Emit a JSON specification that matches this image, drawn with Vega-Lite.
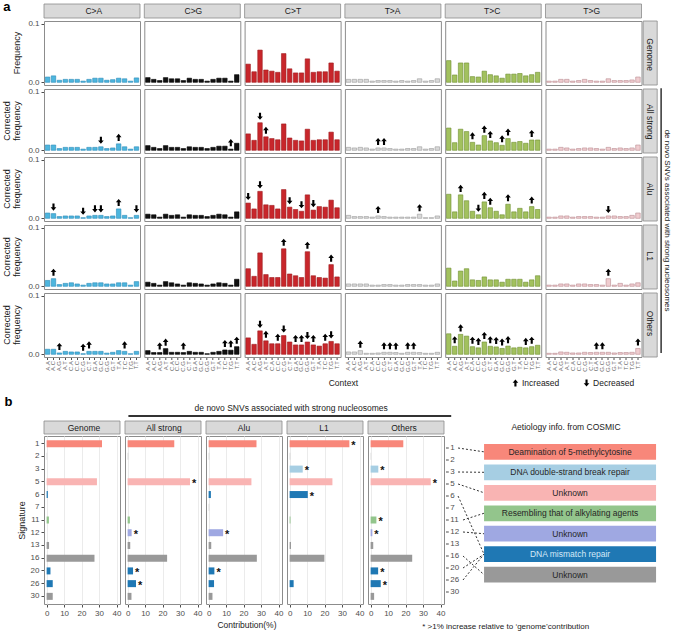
{
"$schema": "https://vega.github.io/schema/vega-lite/v6.json",
"background": "white",
"padding": {"left": 2, "top": 0, "right": 0, "bottom": 0},
"spacing": 0,
"resolve": {"scale": {"fill": "independent", "color": "independent", "stroke": "independent", "shape": "independent"}},
"config": {
  "font": "Liberation Sans",
  "view": {"stroke": "#8c8c8c", "strokeWidth": 1},
  "axis": {"labelFont": "Liberation Sans", "titleFont": "Liberation Sans", "labelColor": "#4d4d4d", "tickColor": "#4d4d4d", "domain": false, "labelFontSize": 8, "titleFontSize": 9, "titleFontWeight": "normal", "titleColor": "#1a1a1a", "tickSize": 3, "labelPadding": 2, "labelOverlap": false},
  "axisX": {"labelOverlap": false},
  "axisQuantitative": {"labelOverlap": false},
  "header": {"labelFont": "Liberation Sans", "titleFont": "Liberation Sans"}
},
"datasets": {
  "muts": [{"mut": "C>A"}, {"mut": "C>G"}, {"mut": "C>T"}, {"mut": "T>A"}, {"mut": "T>C"}, {"mut": "T>G"}],
  "sets": [{"set": "Genome"}, {"set": "All strong"}, {"set": "Alu"}, {"set": "L1"}, {"set": "Others"}],
  "groups": [{"group": "Genome"}, {"group": "All strong"}, {"group": "Alu"}, {"group": "L1"}, {"group": "Others"}],
  "sigs": [{"sig": "1"}, {"sig": "2"}, {"sig": "3"}, {"sig": "5"}, {"sig": "6"}, {"sig": "7"}, {"sig": "11"}, {"sig": "12"}, {"sig": "13"}, {"sig": "16"}, {"sig": "20"}, {"sig": "26"}, {"sig": "30"}],
  "links": [{"sig": "1", "slot": 1}, {"sig": "3", "slot": 2}, {"sig": "5", "slot": 3}, {"sig": "11", "slot": 4}, {"sig": "12", "slot": 5}, {"sig": "6", "slot": 6}, {"sig": "20", "slot": 6}, {"sig": "26", "slot": 6}, {"sig": "16", "slot": 7}],
  "aetiology": [{"slot": 1, "label": "Deamination of 5-methylcytosine"}, {"slot": 2, "label": "DNA double-strand break repair"}, {"slot": 3, "label": "Unknown"}, {"slot": 4, "label": "Resembling that of alkylating agents"}, {"slot": 5, "label": "Unknown"}, {"slot": 6, "label": "DNA mismatch repair"}, {"slot": 7, "label": "Unknown"}],
  "contrib": [
    {"group": "Genome", "sig": "1", "value": 31.7}, {"group": "Genome", "sig": "2", "value": 0.3}, {"group": "Genome", "sig": "3", "value": 0}, {"group": "Genome", "sig": "5", "value": 28.8}, {"group": "Genome", "sig": "6", "value": 0.7}, {"group": "Genome", "sig": "7", "value": 0}, {"group": "Genome", "sig": "11", "value": 1.3}, {"group": "Genome", "sig": "12", "value": 0}, {"group": "Genome", "sig": "13", "value": 1.4}, {"group": "Genome", "sig": "16", "value": 27.4}, {"group": "Genome", "sig": "20", "value": 2.2}, {"group": "Genome", "sig": "26", "value": 3.5}, {"group": "Genome", "sig": "30", "value": 3.5},
    {"group": "All strong", "sig": "1", "value": 26.7}, {"group": "All strong", "sig": "2", "value": 0.4}, {"group": "All strong", "sig": "3", "value": 0}, {"group": "All strong", "sig": "5", "value": 35.7, "star": true}, {"group": "All strong", "sig": "6", "value": 0}, {"group": "All strong", "sig": "7", "value": 0}, {"group": "All strong", "sig": "11", "value": 1.3}, {"group": "All strong", "sig": "12", "value": 2.3, "star": true}, {"group": "All strong", "sig": "13", "value": 1.5}, {"group": "All strong", "sig": "16", "value": 22.6}, {"group": "All strong", "sig": "20", "value": 3.1, "star": true}, {"group": "All strong", "sig": "26", "value": 4.8, "star": true}, {"group": "All strong", "sig": "30", "value": 2.2},
    {"group": "Alu", "sig": "1", "value": 27.4}, {"group": "Alu", "sig": "2", "value": 0.4}, {"group": "Alu", "sig": "3", "value": 0}, {"group": "Alu", "sig": "5", "value": 24.5}, {"group": "Alu", "sig": "6", "value": 1.3}, {"group": "Alu", "sig": "7", "value": 0.4}, {"group": "Alu", "sig": "11", "value": 0}, {"group": "Alu", "sig": "12", "value": 8.3, "star": true}, {"group": "Alu", "sig": "13", "value": 1.5}, {"group": "Alu", "sig": "16", "value": 27.6}, {"group": "Alu", "sig": "20", "value": 3.3, "star": true}, {"group": "Alu", "sig": "26", "value": 3.1}, {"group": "Alu", "sig": "30", "value": 2.2},
    {"group": "L1", "sig": "1", "value": 34.2, "star": true}, {"group": "L1", "sig": "2", "value": 0.4}, {"group": "L1", "sig": "3", "value": 7.5, "star": true}, {"group": "L1", "sig": "5", "value": 24.5}, {"group": "L1", "sig": "6", "value": 10.4, "star": true}, {"group": "L1", "sig": "7", "value": 0}, {"group": "L1", "sig": "11", "value": 0.5}, {"group": "L1", "sig": "12", "value": 0}, {"group": "L1", "sig": "13", "value": 0.8}, {"group": "L1", "sig": "16", "value": 19.9}, {"group": "L1", "sig": "20", "value": 0}, {"group": "L1", "sig": "26", "value": 2.3}, {"group": "L1", "sig": "30", "value": 0},
    {"group": "Others", "sig": "1", "value": 18.7}, {"group": "Others", "sig": "2", "value": 0.3}, {"group": "Others", "sig": "3", "value": 4.4, "star": true}, {"group": "Others", "sig": "5", "value": 34.4, "star": true}, {"group": "Others", "sig": "6", "value": 0}, {"group": "Others", "sig": "7", "value": 0}, {"group": "Others", "sig": "11", "value": 3.3, "star": true}, {"group": "Others", "sig": "12", "value": 1.0, "star": true}, {"group": "Others", "sig": "13", "value": 1.5}, {"group": "Others", "sig": "16", "value": 23.8}, {"group": "Others", "sig": "20", "value": 4.3, "star": true}, {"group": "Others", "sig": "26", "value": 5.8, "star": true}, {"group": "Others", "sig": "30", "value": 2.0}
  ],
  "freq": [
{"set":"Genome","mut":"C>A","ctx":"A.A","freq":0.009},{"set":"Genome","mut":"C>A","ctx":"A.C","freq":0.011},{"set":"Genome","mut":"C>A","ctx":"A.G","freq":0.0035},{"set":"Genome","mut":"C>A","ctx":"A.T","freq":0.005},{"set":"Genome","mut":"C>A","ctx":"C.A","freq":0.005},{"set":"Genome","mut":"C>A","ctx":"C.C","freq":0.005},{"set":"Genome","mut":"C>A","ctx":"C.G","freq":0.002},{"set":"Genome","mut":"C>A","ctx":"C.T","freq":0.005},{"set":"Genome","mut":"C>A","ctx":"G.A","freq":0.007},{"set":"Genome","mut":"C>A","ctx":"G.C","freq":0.007},{"set":"Genome","mut":"C>A","ctx":"G.G","freq":0.0035},{"set":"Genome","mut":"C>A","ctx":"G.T","freq":0.0045},{"set":"Genome","mut":"C>A","ctx":"T.A","freq":0.007},{"set":"Genome","mut":"C>A","ctx":"T.C","freq":0.006},{"set":"Genome","mut":"C>A","ctx":"T.G","freq":0.002},{"set":"Genome","mut":"C>A","ctx":"T.T","freq":0.0075},
{"set":"Genome","mut":"C>G","ctx":"A.A","freq":0.008},{"set":"Genome","mut":"C>G","ctx":"A.C","freq":0.005},{"set":"Genome","mut":"C>G","ctx":"A.G","freq":0.003},{"set":"Genome","mut":"C>G","ctx":"A.T","freq":0.008},{"set":"Genome","mut":"C>G","ctx":"C.A","freq":0.006},{"set":"Genome","mut":"C>G","ctx":"C.C","freq":0.006},{"set":"Genome","mut":"C>G","ctx":"C.G","freq":0.003},{"set":"Genome","mut":"C>G","ctx":"C.T","freq":0.007},{"set":"Genome","mut":"C>G","ctx":"G.A","freq":0.005},{"set":"Genome","mut":"C>G","ctx":"G.C","freq":0.005},{"set":"Genome","mut":"C>G","ctx":"G.G","freq":0.002},{"set":"Genome","mut":"C>G","ctx":"G.T","freq":0.005},{"set":"Genome","mut":"C>G","ctx":"T.A","freq":0.007},{"set":"Genome","mut":"C>G","ctx":"T.C","freq":0.007},{"set":"Genome","mut":"C>G","ctx":"T.G","freq":0.002},{"set":"Genome","mut":"C>G","ctx":"T.T","freq":0.013},
{"set":"Genome","mut":"C>T","ctx":"A.A","freq":0.031},{"set":"Genome","mut":"C>T","ctx":"A.C","freq":0.018},{"set":"Genome","mut":"C>T","ctx":"A.G","freq":0.055},{"set":"Genome","mut":"C>T","ctx":"A.T","freq":0.021},{"set":"Genome","mut":"C>T","ctx":"C.A","freq":0.019},{"set":"Genome","mut":"C>T","ctx":"C.C","freq":0.017},{"set":"Genome","mut":"C>T","ctx":"C.G","freq":0.049},{"set":"Genome","mut":"C>T","ctx":"C.T","freq":0.023},{"set":"Genome","mut":"C>T","ctx":"G.A","freq":0.016},{"set":"Genome","mut":"C>T","ctx":"G.C","freq":0.016},{"set":"Genome","mut":"C>T","ctx":"G.G","freq":0.040},{"set":"Genome","mut":"C>T","ctx":"G.T","freq":0.017},{"set":"Genome","mut":"C>T","ctx":"T.A","freq":0.018},{"set":"Genome","mut":"C>T","ctx":"T.C","freq":0.018},{"set":"Genome","mut":"C>T","ctx":"T.G","freq":0.033},{"set":"Genome","mut":"C>T","ctx":"T.T","freq":0.019},
{"set":"Genome","mut":"T>A","ctx":"A.A","freq":0.005},{"set":"Genome","mut":"T>A","ctx":"A.C","freq":0.005},{"set":"Genome","mut":"T>A","ctx":"A.G","freq":0.005},{"set":"Genome","mut":"T>A","ctx":"A.T","freq":0.005},{"set":"Genome","mut":"T>A","ctx":"C.A","freq":0.002},{"set":"Genome","mut":"T>A","ctx":"C.C","freq":0.003},{"set":"Genome","mut":"T>A","ctx":"C.G","freq":0.003},{"set":"Genome","mut":"T>A","ctx":"C.T","freq":0.003},{"set":"Genome","mut":"T>A","ctx":"G.A","freq":0.002},{"set":"Genome","mut":"T>A","ctx":"G.C","freq":0.003},{"set":"Genome","mut":"T>A","ctx":"G.G","freq":0.002},{"set":"Genome","mut":"T>A","ctx":"G.T","freq":0.003},{"set":"Genome","mut":"T>A","ctx":"T.A","freq":0.006},{"set":"Genome","mut":"T>A","ctx":"T.C","freq":0.002},{"set":"Genome","mut":"T>A","ctx":"T.G","freq":0.003},{"set":"Genome","mut":"T>A","ctx":"T.T","freq":0.006},
{"set":"Genome","mut":"T>C","ctx":"A.A","freq":0.037},{"set":"Genome","mut":"T>C","ctx":"A.C","freq":0.0125},{"set":"Genome","mut":"T>C","ctx":"A.G","freq":0.033},{"set":"Genome","mut":"T>C","ctx":"A.T","freq":0.033},{"set":"Genome","mut":"T>C","ctx":"C.A","freq":0.0097},{"set":"Genome","mut":"T>C","ctx":"C.C","freq":0.009},{"set":"Genome","mut":"T>C","ctx":"C.G","freq":0.019},{"set":"Genome","mut":"T>C","ctx":"C.T","freq":0.013},{"set":"Genome","mut":"T>C","ctx":"G.A","freq":0.011},{"set":"Genome","mut":"T>C","ctx":"G.C","freq":0.007},{"set":"Genome","mut":"T>C","ctx":"G.G","freq":0.014},{"set":"Genome","mut":"T>C","ctx":"G.T","freq":0.014},{"set":"Genome","mut":"T>C","ctx":"T.A","freq":0.015},{"set":"Genome","mut":"T>C","ctx":"T.C","freq":0.011},{"set":"Genome","mut":"T>C","ctx":"T.G","freq":0.013},{"set":"Genome","mut":"T>C","ctx":"T.T","freq":0.017},
{"set":"Genome","mut":"T>G","ctx":"A.A","freq":0.002},{"set":"Genome","mut":"T>G","ctx":"A.C","freq":0.002},{"set":"Genome","mut":"T>G","ctx":"A.G","freq":0.005},{"set":"Genome","mut":"T>G","ctx":"A.T","freq":0.005},{"set":"Genome","mut":"T>G","ctx":"C.A","freq":0.002},{"set":"Genome","mut":"T>G","ctx":"C.C","freq":0.003},{"set":"Genome","mut":"T>G","ctx":"C.G","freq":0.005},{"set":"Genome","mut":"T>G","ctx":"C.T","freq":0.003},{"set":"Genome","mut":"T>G","ctx":"G.A","freq":0.002},{"set":"Genome","mut":"T>G","ctx":"G.C","freq":0.002},{"set":"Genome","mut":"T>G","ctx":"G.G","freq":0.006},{"set":"Genome","mut":"T>G","ctx":"G.T","freq":0.003},{"set":"Genome","mut":"T>G","ctx":"T.A","freq":0.003},{"set":"Genome","mut":"T>G","ctx":"T.C","freq":0.003},{"set":"Genome","mut":"T>G","ctx":"T.G","freq":0.004},{"set":"Genome","mut":"T>G","ctx":"T.T","freq":0.009},
{"set":"All strong","mut":"C>A","ctx":"A.A","freq":0.009},{"set":"All strong","mut":"C>A","ctx":"A.C","freq":0.009},{"set":"All strong","mut":"C>A","ctx":"A.G","freq":0.003},{"set":"All strong","mut":"C>A","ctx":"A.T","freq":0.005},{"set":"All strong","mut":"C>A","ctx":"C.A","freq":0.005},{"set":"All strong","mut":"C>A","ctx":"C.C","freq":0.005},{"set":"All strong","mut":"C>A","ctx":"C.G","freq":0.002},{"set":"All strong","mut":"C>A","ctx":"C.T","freq":0.005},{"set":"All strong","mut":"C>A","ctx":"G.A","freq":0.005},{"set":"All strong","mut":"C>A","ctx":"G.C","freq":0.006,"change":"Decreased"},{"set":"All strong","mut":"C>A","ctx":"G.G","freq":0.003},{"set":"All strong","mut":"C>A","ctx":"G.T","freq":0.004},{"set":"All strong","mut":"C>A","ctx":"T.A","freq":0.011,"change":"Increased"},{"set":"All strong","mut":"C>A","ctx":"T.C","freq":0.006},{"set":"All strong","mut":"C>A","ctx":"T.G","freq":0.002},{"set":"All strong","mut":"C>A","ctx":"T.T","freq":0.006},
{"set":"All strong","mut":"C>G","ctx":"A.A","freq":0.008},{"set":"All strong","mut":"C>G","ctx":"A.C","freq":0.005},{"set":"All strong","mut":"C>G","ctx":"A.G","freq":0.003},{"set":"All strong","mut":"C>G","ctx":"A.T","freq":0.008},{"set":"All strong","mut":"C>G","ctx":"C.A","freq":0.005},{"set":"All strong","mut":"C>G","ctx":"C.C","freq":0.005},{"set":"All strong","mut":"C>G","ctx":"C.G","freq":0.003},{"set":"All strong","mut":"C>G","ctx":"C.T","freq":0.006},{"set":"All strong","mut":"C>G","ctx":"G.A","freq":0.005},{"set":"All strong","mut":"C>G","ctx":"G.C","freq":0.005},{"set":"All strong","mut":"C>G","ctx":"G.G","freq":0.003},{"set":"All strong","mut":"C>G","ctx":"G.T","freq":0.005},{"set":"All strong","mut":"C>G","ctx":"T.A","freq":0.007},{"set":"All strong","mut":"C>G","ctx":"T.C","freq":0.007},{"set":"All strong","mut":"C>G","ctx":"T.G","freq":0.002,"change":"Increased"},{"set":"All strong","mut":"C>G","ctx":"T.T","freq":0.012},
{"set":"All strong","mut":"C>T","ctx":"A.A","freq":0.028},{"set":"All strong","mut":"C>T","ctx":"A.C","freq":0.017},{"set":"All strong","mut":"C>T","ctx":"A.G","freq":0.047,"change":"Decreased"},{"set":"All strong","mut":"C>T","ctx":"A.T","freq":0.023,"change":"Increased"},{"set":"All strong","mut":"C>T","ctx":"C.A","freq":0.020},{"set":"All strong","mut":"C>T","ctx":"C.C","freq":0.018},{"set":"All strong","mut":"C>T","ctx":"C.G","freq":0.045},{"set":"All strong","mut":"C>T","ctx":"C.T","freq":0.021},{"set":"All strong","mut":"C>T","ctx":"G.A","freq":0.017},{"set":"All strong","mut":"C>T","ctx":"G.C","freq":0.016},{"set":"All strong","mut":"C>T","ctx":"G.G","freq":0.036},{"set":"All strong","mut":"C>T","ctx":"G.T","freq":0.017},{"set":"All strong","mut":"C>T","ctx":"T.A","freq":0.018},{"set":"All strong","mut":"C>T","ctx":"T.C","freq":0.018},{"set":"All strong","mut":"C>T","ctx":"T.G","freq":0.031},{"set":"All strong","mut":"C>T","ctx":"T.T","freq":0.018},
{"set":"All strong","mut":"T>A","ctx":"A.A","freq":0.005},{"set":"All strong","mut":"T>A","ctx":"A.C","freq":0.004},{"set":"All strong","mut":"T>A","ctx":"A.G","freq":0.005},{"set":"All strong","mut":"T>A","ctx":"A.T","freq":0.004},{"set":"All strong","mut":"T>A","ctx":"C.A","freq":0.002},{"set":"All strong","mut":"T>A","ctx":"C.C","freq":0.004,"change":"Increased"},{"set":"All strong","mut":"T>A","ctx":"C.G","freq":0.004,"change":"Increased"},{"set":"All strong","mut":"T>A","ctx":"C.T","freq":0.003},{"set":"All strong","mut":"T>A","ctx":"G.A","freq":0.002},{"set":"All strong","mut":"T>A","ctx":"G.C","freq":0.002},{"set":"All strong","mut":"T>A","ctx":"G.G","freq":0.003},{"set":"All strong","mut":"T>A","ctx":"G.T","freq":0.003},{"set":"All strong","mut":"T>A","ctx":"T.A","freq":0.006},{"set":"All strong","mut":"T>A","ctx":"T.C","freq":0.002},{"set":"All strong","mut":"T>A","ctx":"T.G","freq":0.003},{"set":"All strong","mut":"T>A","ctx":"T.T","freq":0.006},
{"set":"All strong","mut":"T>C","ctx":"A.A","freq":0.038},{"set":"All strong","mut":"T>C","ctx":"A.C","freq":0.013},{"set":"All strong","mut":"T>C","ctx":"A.G","freq":0.036},{"set":"All strong","mut":"T>C","ctx":"A.T","freq":0.032},{"set":"All strong","mut":"T>C","ctx":"C.A","freq":0.0136,"change":"Increased"},{"set":"All strong","mut":"T>C","ctx":"C.C","freq":0.009},{"set":"All strong","mut":"T>C","ctx":"C.G","freq":0.025,"change":"Increased"},{"set":"All strong","mut":"T>C","ctx":"C.T","freq":0.016,"change":"Increased"},{"set":"All strong","mut":"T>C","ctx":"G.A","freq":0.013},{"set":"All strong","mut":"T>C","ctx":"G.C","freq":0.0085,"change":"Increased"},{"set":"All strong","mut":"T>C","ctx":"G.G","freq":0.020,"change":"Increased"},{"set":"All strong","mut":"T>C","ctx":"G.T","freq":0.0136},{"set":"All strong","mut":"T>C","ctx":"T.A","freq":0.015},{"set":"All strong","mut":"T>C","ctx":"T.C","freq":0.012},{"set":"All strong","mut":"T>C","ctx":"T.G","freq":0.0176,"change":"Increased"},{"set":"All strong","mut":"T>C","ctx":"T.T","freq":0.0176},
{"set":"All strong","mut":"T>G","ctx":"A.A","freq":0.002},{"set":"All strong","mut":"T>G","ctx":"A.C","freq":0.002},{"set":"All strong","mut":"T>G","ctx":"A.G","freq":0.005},{"set":"All strong","mut":"T>G","ctx":"A.T","freq":0.004},{"set":"All strong","mut":"T>G","ctx":"C.A","freq":0.002},{"set":"All strong","mut":"T>G","ctx":"C.C","freq":0.003},{"set":"All strong","mut":"T>G","ctx":"C.G","freq":0.004},{"set":"All strong","mut":"T>G","ctx":"C.T","freq":0.004},{"set":"All strong","mut":"T>G","ctx":"G.A","freq":0.003},{"set":"All strong","mut":"T>G","ctx":"G.C","freq":0.002},{"set":"All strong","mut":"T>G","ctx":"G.G","freq":0.005},{"set":"All strong","mut":"T>G","ctx":"G.T","freq":0.003},{"set":"All strong","mut":"T>G","ctx":"T.A","freq":0.004},{"set":"All strong","mut":"T>G","ctx":"T.C","freq":0.003},{"set":"All strong","mut":"T>G","ctx":"T.G","freq":0.004},{"set":"All strong","mut":"T>G","ctx":"T.T","freq":0.009},
{"set":"Alu","mut":"C>A","ctx":"A.A","freq":0.009},{"set":"Alu","mut":"C>A","ctx":"A.C","freq":0.008,"change":"Decreased"},{"set":"Alu","mut":"C>A","ctx":"A.G","freq":0.003},{"set":"Alu","mut":"C>A","ctx":"A.T","freq":0.004},{"set":"Alu","mut":"C>A","ctx":"C.A","freq":0.004},{"set":"Alu","mut":"C>A","ctx":"C.C","freq":0.004},{"set":"Alu","mut":"C>A","ctx":"C.G","freq":0.001,"change":"Decreased"},{"set":"Alu","mut":"C>A","ctx":"C.T","freq":0.004},{"set":"Alu","mut":"C>A","ctx":"G.A","freq":0.005,"change":"Decreased"},{"set":"Alu","mut":"C>A","ctx":"G.C","freq":0.005,"change":"Decreased"},{"set":"Alu","mut":"C>A","ctx":"G.G","freq":0.003},{"set":"Alu","mut":"C>A","ctx":"G.T","freq":0.004},{"set":"Alu","mut":"C>A","ctx":"T.A","freq":0.016,"change":"Increased"},{"set":"Alu","mut":"C>A","ctx":"T.C","freq":0.005},{"set":"Alu","mut":"C>A","ctx":"T.G","freq":0.001},{"set":"Alu","mut":"C>A","ctx":"T.T","freq":0.005,"change":"Decreased"},
{"set":"Alu","mut":"C>G","ctx":"A.A","freq":0.007},{"set":"Alu","mut":"C>G","ctx":"A.C","freq":0.006},{"set":"Alu","mut":"C>G","ctx":"A.G","freq":0.002},{"set":"Alu","mut":"C>G","ctx":"A.T","freq":0.007},{"set":"Alu","mut":"C>G","ctx":"C.A","freq":0.005},{"set":"Alu","mut":"C>G","ctx":"C.C","freq":0.006},{"set":"Alu","mut":"C>G","ctx":"C.G","freq":0.002},{"set":"Alu","mut":"C>G","ctx":"C.T","freq":0.006},{"set":"Alu","mut":"C>G","ctx":"G.A","freq":0.005},{"set":"Alu","mut":"C>G","ctx":"G.C","freq":0.005},{"set":"Alu","mut":"C>G","ctx":"G.G","freq":0.003},{"set":"Alu","mut":"C>G","ctx":"G.T","freq":0.005},{"set":"Alu","mut":"C>G","ctx":"T.A","freq":0.007},{"set":"Alu","mut":"C>G","ctx":"T.C","freq":0.006},{"set":"Alu","mut":"C>G","ctx":"T.G","freq":0.002},{"set":"Alu","mut":"C>G","ctx":"T.T","freq":0.011},
{"set":"Alu","mut":"C>T","ctx":"A.A","freq":0.026,"change":"Decreased"},{"set":"Alu","mut":"C>T","ctx":"A.C","freq":0.016},{"set":"Alu","mut":"C>T","ctx":"A.G","freq":0.046,"change":"Decreased"},{"set":"Alu","mut":"C>T","ctx":"A.T","freq":0.023},{"set":"Alu","mut":"C>T","ctx":"C.A","freq":0.022},{"set":"Alu","mut":"C>T","ctx":"C.C","freq":0.016},{"set":"Alu","mut":"C>T","ctx":"C.G","freq":0.049},{"set":"Alu","mut":"C>T","ctx":"C.T","freq":0.019,"change":"Decreased"},{"set":"Alu","mut":"C>T","ctx":"G.A","freq":0.015},{"set":"Alu","mut":"C>T","ctx":"G.C","freq":0.012,"change":"Decreased"},{"set":"Alu","mut":"C>T","ctx":"G.G","freq":0.040},{"set":"Alu","mut":"C>T","ctx":"G.T","freq":0.014,"change":"Decreased"},{"set":"Alu","mut":"C>T","ctx":"T.A","freq":0.020},{"set":"Alu","mut":"C>T","ctx":"T.C","freq":0.019},{"set":"Alu","mut":"C>T","ctx":"T.G","freq":0.031},{"set":"Alu","mut":"C>T","ctx":"T.T","freq":0.018},
{"set":"Alu","mut":"T>A","ctx":"A.A","freq":0.005},{"set":"Alu","mut":"T>A","ctx":"A.C","freq":0.003},{"set":"Alu","mut":"T>A","ctx":"A.G","freq":0.003},{"set":"Alu","mut":"T>A","ctx":"A.T","freq":0.003},{"set":"Alu","mut":"T>A","ctx":"C.A","freq":0.002},{"set":"Alu","mut":"T>A","ctx":"C.C","freq":0.004,"change":"Increased"},{"set":"Alu","mut":"T>A","ctx":"C.G","freq":0.003},{"set":"Alu","mut":"T>A","ctx":"C.T","freq":0.002},{"set":"Alu","mut":"T>A","ctx":"G.A","freq":0.002},{"set":"Alu","mut":"T>A","ctx":"G.C","freq":0.002},{"set":"Alu","mut":"T>A","ctx":"G.G","freq":0.002},{"set":"Alu","mut":"T>A","ctx":"G.T","freq":0.002},{"set":"Alu","mut":"T>A","ctx":"T.A","freq":0.007,"change":"Increased"},{"set":"Alu","mut":"T>A","ctx":"T.C","freq":0.001},{"set":"Alu","mut":"T>A","ctx":"T.G","freq":0.001},{"set":"Alu","mut":"T>A","ctx":"T.T","freq":0.004},
{"set":"Alu","mut":"T>C","ctx":"A.A","freq":0.041},{"set":"Alu","mut":"T>C","ctx":"A.C","freq":0.011},{"set":"Alu","mut":"T>C","ctx":"A.G","freq":0.040,"change":"Increased"},{"set":"Alu","mut":"T>C","ctx":"A.T","freq":0.030},{"set":"Alu","mut":"T>C","ctx":"C.A","freq":0.012},{"set":"Alu","mut":"T>C","ctx":"C.C","freq":0.006,"change":"Decreased"},{"set":"Alu","mut":"T>C","ctx":"C.G","freq":0.028,"change":"Increased"},{"set":"Alu","mut":"T>C","ctx":"C.T","freq":0.018,"change":"Increased"},{"set":"Alu","mut":"T>C","ctx":"G.A","freq":0.012},{"set":"Alu","mut":"T>C","ctx":"G.C","freq":0.006},{"set":"Alu","mut":"T>C","ctx":"G.G","freq":0.024,"change":"Increased"},{"set":"Alu","mut":"T>C","ctx":"G.T","freq":0.011},{"set":"Alu","mut":"T>C","ctx":"T.A","freq":0.017},{"set":"Alu","mut":"T>C","ctx":"T.C","freq":0.011},{"set":"Alu","mut":"T>C","ctx":"T.G","freq":0.020,"change":"Increased"},{"set":"Alu","mut":"T>C","ctx":"T.T","freq":0.015},
{"set":"Alu","mut":"T>G","ctx":"A.A","freq":0.002},{"set":"Alu","mut":"T>G","ctx":"A.C","freq":0.002},{"set":"Alu","mut":"T>G","ctx":"A.G","freq":0.004},{"set":"Alu","mut":"T>G","ctx":"A.T","freq":0.004},{"set":"Alu","mut":"T>G","ctx":"C.A","freq":0.002},{"set":"Alu","mut":"T>G","ctx":"C.C","freq":0.003},{"set":"Alu","mut":"T>G","ctx":"C.G","freq":0.003},{"set":"Alu","mut":"T>G","ctx":"C.T","freq":0.003},{"set":"Alu","mut":"T>G","ctx":"G.A","freq":0.002},{"set":"Alu","mut":"T>G","ctx":"G.C","freq":0.002},{"set":"Alu","mut":"T>G","ctx":"G.G","freq":0.004,"change":"Decreased"},{"set":"Alu","mut":"T>G","ctx":"G.T","freq":0.004},{"set":"Alu","mut":"T>G","ctx":"T.A","freq":0.003},{"set":"Alu","mut":"T>G","ctx":"T.C","freq":0.003},{"set":"Alu","mut":"T>G","ctx":"T.G","freq":0.005},{"set":"Alu","mut":"T>G","ctx":"T.T","freq":0.009},
{"set":"L1","mut":"C>A","ctx":"A.A","freq":0.010},{"set":"L1","mut":"C>A","ctx":"A.C","freq":0.013,"change":"Increased"},{"set":"L1","mut":"C>A","ctx":"A.G","freq":0.003},{"set":"L1","mut":"C>A","ctx":"A.T","freq":0.005},{"set":"L1","mut":"C>A","ctx":"C.A","freq":0.006},{"set":"L1","mut":"C>A","ctx":"C.C","freq":0.004},{"set":"L1","mut":"C>A","ctx":"C.G","freq":0.002},{"set":"L1","mut":"C>A","ctx":"C.T","freq":0.005},{"set":"L1","mut":"C>A","ctx":"G.A","freq":0.006},{"set":"L1","mut":"C>A","ctx":"G.C","freq":0.006},{"set":"L1","mut":"C>A","ctx":"G.G","freq":0.004},{"set":"L1","mut":"C>A","ctx":"G.T","freq":0.004},{"set":"L1","mut":"C>A","ctx":"T.A","freq":0.006},{"set":"L1","mut":"C>A","ctx":"T.C","freq":0.006},{"set":"L1","mut":"C>A","ctx":"T.G","freq":0.002},{"set":"L1","mut":"C>A","ctx":"T.T","freq":0.008},
{"set":"L1","mut":"C>G","ctx":"A.A","freq":0.007},{"set":"L1","mut":"C>G","ctx":"A.C","freq":0.005},{"set":"L1","mut":"C>G","ctx":"A.G","freq":0.002},{"set":"L1","mut":"C>G","ctx":"A.T","freq":0.008},{"set":"L1","mut":"C>G","ctx":"C.A","freq":0.006},{"set":"L1","mut":"C>G","ctx":"C.C","freq":0.004},{"set":"L1","mut":"C>G","ctx":"C.G","freq":0.002},{"set":"L1","mut":"C>G","ctx":"C.T","freq":0.006},{"set":"L1","mut":"C>G","ctx":"G.A","freq":0.005},{"set":"L1","mut":"C>G","ctx":"G.C","freq":0.004},{"set":"L1","mut":"C>G","ctx":"G.G","freq":0.002},{"set":"L1","mut":"C>G","ctx":"G.T","freq":0.004},{"set":"L1","mut":"C>G","ctx":"T.A","freq":0.006},{"set":"L1","mut":"C>G","ctx":"T.C","freq":0.005},{"set":"L1","mut":"C>G","ctx":"T.G","freq":0.002},{"set":"L1","mut":"C>G","ctx":"T.T","freq":0.012},
{"set":"L1","mut":"C>T","ctx":"A.A","freq":0.030},{"set":"L1","mut":"C>T","ctx":"A.C","freq":0.017},{"set":"L1","mut":"C>T","ctx":"A.G","freq":0.057},{"set":"L1","mut":"C>T","ctx":"A.T","freq":0.020},{"set":"L1","mut":"C>T","ctx":"C.A","freq":0.015},{"set":"L1","mut":"C>T","ctx":"C.C","freq":0.015},{"set":"L1","mut":"C>T","ctx":"C.G","freq":0.064,"change":"Increased"},{"set":"L1","mut":"C>T","ctx":"C.T","freq":0.021},{"set":"L1","mut":"C>T","ctx":"G.A","freq":0.018},{"set":"L1","mut":"C>T","ctx":"G.C","freq":0.015},{"set":"L1","mut":"C>T","ctx":"G.G","freq":0.059,"change":"Increased"},{"set":"L1","mut":"C>T","ctx":"G.T","freq":0.018},{"set":"L1","mut":"C>T","ctx":"T.A","freq":0.015},{"set":"L1","mut":"C>T","ctx":"T.C","freq":0.014},{"set":"L1","mut":"C>T","ctx":"T.G","freq":0.037,"change":"Increased"},{"set":"L1","mut":"C>T","ctx":"T.T","freq":0.016},
{"set":"L1","mut":"T>A","ctx":"A.A","freq":0.004},{"set":"L1","mut":"T>A","ctx":"A.C","freq":0.004},{"set":"L1","mut":"T>A","ctx":"A.G","freq":0.004},{"set":"L1","mut":"T>A","ctx":"A.T","freq":0.004},{"set":"L1","mut":"T>A","ctx":"C.A","freq":0.002},{"set":"L1","mut":"T>A","ctx":"C.C","freq":0.002},{"set":"L1","mut":"T>A","ctx":"C.G","freq":0.003},{"set":"L1","mut":"T>A","ctx":"C.T","freq":0.003},{"set":"L1","mut":"T>A","ctx":"G.A","freq":0.002},{"set":"L1","mut":"T>A","ctx":"G.C","freq":0.002},{"set":"L1","mut":"T>A","ctx":"G.G","freq":0.003},{"set":"L1","mut":"T>A","ctx":"G.T","freq":0.003},{"set":"L1","mut":"T>A","ctx":"T.A","freq":0.003},{"set":"L1","mut":"T>A","ctx":"T.C","freq":0.002},{"set":"L1","mut":"T>A","ctx":"T.G","freq":0.002},{"set":"L1","mut":"T>A","ctx":"T.T","freq":0.004},
{"set":"L1","mut":"T>C","ctx":"A.A","freq":0.031},{"set":"L1","mut":"T>C","ctx":"A.C","freq":0.009},{"set":"L1","mut":"T>C","ctx":"A.G","freq":0.026},{"set":"L1","mut":"T>C","ctx":"A.T","freq":0.030},{"set":"L1","mut":"T>C","ctx":"C.A","freq":0.011},{"set":"L1","mut":"T>C","ctx":"C.C","freq":0.010},{"set":"L1","mut":"T>C","ctx":"C.G","freq":0.016},{"set":"L1","mut":"T>C","ctx":"C.T","freq":0.011},{"set":"L1","mut":"T>C","ctx":"G.A","freq":0.011},{"set":"L1","mut":"T>C","ctx":"G.C","freq":0.007},{"set":"L1","mut":"T>C","ctx":"G.G","freq":0.012},{"set":"L1","mut":"T>C","ctx":"G.T","freq":0.012},{"set":"L1","mut":"T>C","ctx":"T.A","freq":0.012},{"set":"L1","mut":"T>C","ctx":"T.C","freq":0.007},{"set":"L1","mut":"T>C","ctx":"T.G","freq":0.011},{"set":"L1","mut":"T>C","ctx":"T.T","freq":0.018},
{"set":"L1","mut":"T>G","ctx":"A.A","freq":0.002},{"set":"L1","mut":"T>G","ctx":"A.C","freq":0.002},{"set":"L1","mut":"T>G","ctx":"A.G","freq":0.004},{"set":"L1","mut":"T>G","ctx":"A.T","freq":0.004},{"set":"L1","mut":"T>G","ctx":"C.A","freq":0.002},{"set":"L1","mut":"T>G","ctx":"C.C","freq":0.004},{"set":"L1","mut":"T>G","ctx":"C.G","freq":0.004},{"set":"L1","mut":"T>G","ctx":"C.T","freq":0.003},{"set":"L1","mut":"T>G","ctx":"G.A","freq":0.003},{"set":"L1","mut":"T>G","ctx":"G.C","freq":0.002},{"set":"L1","mut":"T>G","ctx":"G.G","freq":0.013,"change":"Increased"},{"set":"L1","mut":"T>G","ctx":"G.T","freq":0.002},{"set":"L1","mut":"T>G","ctx":"T.A","freq":0.005},{"set":"L1","mut":"T>G","ctx":"T.C","freq":0.002},{"set":"L1","mut":"T>G","ctx":"T.G","freq":0.004},{"set":"L1","mut":"T>G","ctx":"T.T","freq":0.006},
{"set":"Others","mut":"C>A","ctx":"A.A","freq":0.0086},{"set":"Others","mut":"C>A","ctx":"A.C","freq":0.0086},{"set":"Others","mut":"C>A","ctx":"A.G","freq":0.0023,"change":"Increased"},{"set":"Others","mut":"C>A","ctx":"A.T","freq":0.005},{"set":"Others","mut":"C>A","ctx":"C.A","freq":0.004},{"set":"Others","mut":"C>A","ctx":"C.C","freq":0.004},{"set":"Others","mut":"C>A","ctx":"C.G","freq":0.001,"change":"Increased"},{"set":"Others","mut":"C>A","ctx":"C.T","freq":0.005,"change":"Increased"},{"set":"Others","mut":"C>A","ctx":"G.A","freq":0.005},{"set":"Others","mut":"C>A","ctx":"G.C","freq":0.005},{"set":"Others","mut":"C>A","ctx":"G.G","freq":0.002},{"set":"Others","mut":"C>A","ctx":"G.T","freq":0.0034},{"set":"Others","mut":"C>A","ctx":"T.A","freq":0.0063},{"set":"Others","mut":"C>A","ctx":"T.C","freq":0.005,"change":"Increased"},{"set":"Others","mut":"C>A","ctx":"T.G","freq":0.001},{"set":"Others","mut":"C>A","ctx":"T.T","freq":0.005},
{"set":"Others","mut":"C>G","ctx":"A.A","freq":0.0063},{"set":"Others","mut":"C>G","ctx":"A.C","freq":0.003},{"set":"Others","mut":"C>G","ctx":"A.G","freq":0.003,"change":"Increased"},{"set":"Others","mut":"C>G","ctx":"A.T","freq":0.0097,"change":"Increased"},{"set":"Others","mut":"C>G","ctx":"C.A","freq":0.0034},{"set":"Others","mut":"C>G","ctx":"C.C","freq":0.0034},{"set":"Others","mut":"C>G","ctx":"C.G","freq":0.003,"change":"Increased"},{"set":"Others","mut":"C>G","ctx":"C.T","freq":0.005},{"set":"Others","mut":"C>G","ctx":"G.A","freq":0.0034},{"set":"Others","mut":"C>G","ctx":"G.C","freq":0.0034},{"set":"Others","mut":"C>G","ctx":"G.G","freq":0.001},{"set":"Others","mut":"C>G","ctx":"G.T","freq":0.0034},{"set":"Others","mut":"C>G","ctx":"T.A","freq":0.005},{"set":"Others","mut":"C>G","ctx":"T.C","freq":0.0074,"change":"Increased"},{"set":"Others","mut":"C>G","ctx":"T.G","freq":0.007,"change":"Increased"},{"set":"Others","mut":"C>G","ctx":"T.T","freq":0.013,"change":"Increased"},
{"set":"Others","mut":"C>T","ctx":"A.A","freq":0.028},{"set":"Others","mut":"C>T","ctx":"A.C","freq":0.017},{"set":"Others","mut":"C>T","ctx":"A.G","freq":0.040,"change":"Decreased"},{"set":"Others","mut":"C>T","ctx":"A.T","freq":0.023,"change":"Increased"},{"set":"Others","mut":"C>T","ctx":"C.A","freq":0.018},{"set":"Others","mut":"C>T","ctx":"C.C","freq":0.018,"change":"Increased"},{"set":"Others","mut":"C>T","ctx":"C.G","freq":0.032,"change":"Decreased"},{"set":"Others","mut":"C>T","ctx":"C.T","freq":0.021},{"set":"Others","mut":"C>T","ctx":"G.A","freq":0.016,"change":"Increased"},{"set":"Others","mut":"C>T","ctx":"G.C","freq":0.016,"change":"Increased"},{"set":"Others","mut":"C>T","ctx":"G.G","freq":0.021,"change":"Decreased"},{"set":"Others","mut":"C>T","ctx":"G.T","freq":0.016,"change":"Increased"},{"set":"Others","mut":"C>T","ctx":"T.A","freq":0.014},{"set":"Others","mut":"C>T","ctx":"T.C","freq":0.018,"change":"Increased"},{"set":"Others","mut":"C>T","ctx":"T.G","freq":0.022,"change":"Decreased"},{"set":"Others","mut":"C>T","ctx":"T.T","freq":0.018},
{"set":"Others","mut":"T>A","ctx":"A.A","freq":0.004},{"set":"Others","mut":"T>A","ctx":"A.C","freq":0.004},{"set":"Others","mut":"T>A","ctx":"A.G","freq":0.0063,"change":"Increased"},{"set":"Others","mut":"T>A","ctx":"A.T","freq":0.0017},{"set":"Others","mut":"T>A","ctx":"C.A","freq":0.0017},{"set":"Others","mut":"T>A","ctx":"C.C","freq":0.0023},{"set":"Others","mut":"T>A","ctx":"C.G","freq":0.0034,"change":"Increased"},{"set":"Others","mut":"T>A","ctx":"C.T","freq":0.0034,"change":"Increased"},{"set":"Others","mut":"T>A","ctx":"G.A","freq":0.003,"change":"Increased"},{"set":"Others","mut":"T>A","ctx":"G.C","freq":0.0017},{"set":"Others","mut":"T>A","ctx":"G.G","freq":0.0034,"change":"Increased"},{"set":"Others","mut":"T>A","ctx":"G.T","freq":0.0034,"change":"Increased"},{"set":"Others","mut":"T>A","ctx":"T.A","freq":0.003},{"set":"Others","mut":"T>A","ctx":"T.C","freq":0.0017},{"set":"Others","mut":"T>A","ctx":"T.G","freq":0.0017},{"set":"Others","mut":"T>A","ctx":"T.T","freq":0.0034},
{"set":"Others","mut":"T>C","ctx":"A.A","freq":0.035},{"set":"Others","mut":"T>C","ctx":"A.C","freq":0.0137,"change":"Increased"},{"set":"Others","mut":"T>C","ctx":"A.G","freq":0.034,"change":"Increased"},{"set":"Others","mut":"T>C","ctx":"A.T","freq":0.031},{"set":"Others","mut":"T>C","ctx":"C.A","freq":0.013,"change":"Increased"},{"set":"Others","mut":"T>C","ctx":"C.C","freq":0.011,"change":"Increased"},{"set":"Others","mut":"T>C","ctx":"C.G","freq":0.021,"change":"Increased"},{"set":"Others","mut":"T>C","ctx":"C.T","freq":0.0137,"change":"Increased"},{"set":"Others","mut":"T>C","ctx":"G.A","freq":0.0126,"change":"Increased"},{"set":"Others","mut":"T>C","ctx":"G.C","freq":0.010,"change":"Increased"},{"set":"Others","mut":"T>C","ctx":"G.G","freq":0.014,"change":"Increased"},{"set":"Others","mut":"T>C","ctx":"G.T","freq":0.011},{"set":"Others","mut":"T>C","ctx":"T.A","freq":0.012},{"set":"Others","mut":"T>C","ctx":"T.C","freq":0.011,"change":"Increased"},{"set":"Others","mut":"T>C","ctx":"T.G","freq":0.013,"change":"Increased"},{"set":"Others","mut":"T>C","ctx":"T.T","freq":0.0154},
{"set":"Others","mut":"T>G","ctx":"A.A","freq":0.0017},{"set":"Others","mut":"T>G","ctx":"A.C","freq":0.0017},{"set":"Others","mut":"T>G","ctx":"A.G","freq":0.004},{"set":"Others","mut":"T>G","ctx":"A.T","freq":0.0034},{"set":"Others","mut":"T>G","ctx":"C.A","freq":0.0023},{"set":"Others","mut":"T>G","ctx":"C.C","freq":0.0023},{"set":"Others","mut":"T>G","ctx":"C.G","freq":0.0034},{"set":"Others","mut":"T>G","ctx":"C.T","freq":0.003},{"set":"Others","mut":"T>G","ctx":"G.A","freq":0.0034,"change":"Increased"},{"set":"Others","mut":"T>G","ctx":"G.C","freq":0.0034,"change":"Increased"},{"set":"Others","mut":"T>G","ctx":"G.G","freq":0.0034},{"set":"Others","mut":"T>G","ctx":"G.T","freq":0.0023},{"set":"Others","mut":"T>G","ctx":"T.A","freq":0.003},{"set":"Others","mut":"T>G","ctx":"T.C","freq":0.003},{"set":"Others","mut":"T>G","ctx":"T.G","freq":0.0034},{"set":"Others","mut":"T>G","ctx":"T.T","freq":0.010,"change":"Increased"}
  ]
},
"vconcat": [
  {
    "width": 597.5, "height": 14, "view": {"stroke": null},
    "layer": [
      {"data": {"name": "muts"}, "mark": {"type": "rect", "fill": "#d9d9d9", "stroke": "#8c8c8c", "strokeWidth": 0.8},
       "encoding": {"x": {"field": "mut", "type": "nominal", "sort": ["C>A","C>G","C>T","T>A","T>C","T>G"], "scale": {"paddingInner": 0.04287, "paddingOuter": 0}, "axis": null}}},
      {"data": {"name": "muts"}, "mark": {"type": "text", "fontSize": 8.5, "color": "#1a1a1a", "baseline": "middle"},
       "encoding": {"x": {"field": "mut", "type": "nominal", "sort": ["C>A","C>G","C>T","T>A","T>C","T>G"], "scale": {"paddingInner": 0.04287, "paddingOuter": 0}, "axis": null}, "text": {"field": "mut"}}},
      {"data": {"values": [{"label": "a"}]}, "mark": {"type": "text", "fontSize": 13, "fontWeight": "bold", "align": "left", "baseline": "top", "color": "#000"},
       "encoding": {"x": {"datum": -6.8, "type": "quantitative", "scale": {"domain": [0, 100]}, "axis": null}, "y": {"datum": 1.25, "type": "quantitative", "scale": {"domain": [0, 1]}, "axis": null}, "text": {"field": "label"}}}
    ],
    "resolve": {"scale": {"x": "independent"}}
  },
  {
    "spacing": 0,
    "hconcat": [
      {
        "data": {"name": "freq"},
        "facet": {
          "row": {"field": "set", "type": "nominal", "sort": ["Genome","All strong","Alu","L1","Others"], "title": null,
                  "header": {"labelExpr": "datum.value == 'Genome' ? 'Frequency' : ['Corrected', 'frequency']", "labelOrient": "left", "labelAngle": -90, "labelPadding": 2, "labelFontSize": 9, "labelColor": "#1a1a1a", "labelLineHeight": 10}},
          "column": {"field": "mut", "type": "nominal", "sort": ["C>A","C>G","C>T","T>A","T>C","T>G"], "header": null}
        },
        "spacing": {"row": 4, "column": 4.3},
        "bounds": "flush",
        "spec": {
          "width": 96, "height": 64,
          "layer": [
            {"mark": {"type": "bar", "strokeWidth": 0.6},
             "encoding": {
               "x": {"field": "ctx", "type": "nominal", "sort": ["A.A","A.C","A.G","A.T","C.A","C.C","C.G","C.T","G.A","G.C","G.G","G.T","T.A","T.C","T.G","T.T"], "scale": {"paddingInner": 0.24, "paddingOuter": 0.22},
                     "axis": {"title": null, "labelAngle": -90, "labelFontSize": 6, "labelPadding": 1, "tickSize": 2.5, "labelColor": "#666666", "labelOverlap": false}},
               "y": {"field": "freq", "type": "quantitative", "scale": {"domain": [-0.0046, 0.1046], "nice": false},
                     "axis": {"title": null, "values": [0, 0.05, 0.1], "labelExpr": "datum.value == 0.05 ? '' : format(datum.value, '.1f')", "grid": true, "gridColor": "#ebebeb",
                              "gridOpacity": {"condition": {"test": "datum.value == 0.05", "value": 1}, "value": 0},
                              "tickOpacity": {"condition": {"test": "datum.value == 0.05", "value": 0}, "value": 1}}},
               "fill": {"field": "mut", "type": "nominal", "scale": {"domain": ["C>A","C>G","C>T","T>A","T>C","T>G"], "range": ["#4db6de","#111111","#c8262b","#d9d9d9","#a2c15e","#f0cdd0"]}, "legend": null},
               "stroke": {"field": "mut", "type": "nominal", "scale": {"domain": ["C>A","C>G","C>T","T>A","T>C","T>G"], "range": ["#2b8cb8","#000000","#9e1b1f","#9a9a9a","#6f8f30","#b98c90"]}, "legend": null}
             }},
            {"transform": [{"filter": "isValid(datum.change)"}],
             "mark": {"type": "point", "filled": true, "color": "#000000", "size": 50, "yOffset": -6.5, "opacity": 1},
             "encoding": {
               "x": {"field": "ctx", "type": "nominal", "sort": ["A.A","A.C","A.G","A.T","C.A","C.C","C.G","C.T","G.A","G.C","G.G","G.T","T.A","T.C","T.G","T.T"]},
               "y": {"field": "freq", "type": "quantitative"},
               "shape": {"field": "change", "type": "nominal", "scale": {"domain": ["Increased","Decreased"], "range": ["M0,-1L0.8,-0.05L0.3,-0.05L0.3,1L-0.3,1L-0.3,-0.05L-0.8,-0.05Z", "M0,1L0.8,0.05L0.3,0.05L0.3,-1L-0.3,-1L-0.3,0.05L-0.8,0.05Z"]}, "legend": null}
             }}
          ]
        }
      },
      {
        "width": 28, "height": 336, "view": {"stroke": null},
        "layer": [
          {"data": {"name": "sets"}, "mark": {"type": "rect", "fill": "#d9d9d9", "stroke": "#8c8c8c", "strokeWidth": 0.8},
           "encoding": {"y": {"field": "set", "type": "nominal", "sort": ["Genome","All strong","Alu","L1","Others"], "scale": {"paddingInner": 0.0588, "paddingOuter": 0}, "axis": null},
                        "x": {"datum": -0.2, "type": "quantitative", "scale": {"domain": [0, 2]}, "axis": null}, "x2": {"datum": 0.8}}},
          {"data": {"name": "sets"}, "mark": {"type": "text", "angle": 90, "fontSize": 8.5, "color": "#1a1a1a", "baseline": "middle"},
           "encoding": {"y": {"field": "set", "type": "nominal", "sort": ["Genome","All strong","Alu","L1","Others"], "scale": {"paddingInner": 0.0588, "paddingOuter": 0}, "axis": null},
                        "x": {"datum": 0.3, "type": "quantitative"}, "text": {"field": "set"}}},
          {"data": {"values": [{"label": "de novo SNVs associated with strong nucleosomes"}]},
           "layer": [
             {"mark": {"type": "rule", "color": "#333333", "strokeWidth": 1.5},
              "encoding": {"x": {"datum": 1.08, "type": "quantitative"}, "y": {"datum": 1, "type": "quantitative", "scale": {"domain": [0, 4.941], "reverse": true}, "axis": null}, "y2": {"datum": 4.941}}},
             {"mark": {"type": "text", "angle": 90, "fontSize": 8, "color": "#1a1a1a", "baseline": "middle"},
              "encoding": {"x": {"datum": 1.5, "type": "quantitative"}, "y": {"datum": 2.97, "type": "quantitative"}, "text": {"field": "label"}}}
           ]}
        ],
        "resolve": {"scale": {"y": "independent"}}
      }
    ]
  },
  {
    "width": 597.5, "height": 23, "view": {"stroke": null},
    "data": {"values": [{"label": "Increased"}, {"label": "Decreased"}]},
    "layer": [
      {"transform": [{"filter": "datum.label == 'Increased'"}], "mark": {"type": "text", "fontSize": 8.5, "color": "#1a1a1a", "baseline": "middle"},
       "encoding": {"x": {"datum": 50.1, "type": "quantitative", "scale": {"domain": [0, 100]}, "axis": null}, "y": {"datum": 0.52, "type": "quantitative", "scale": {"domain": [0, 1]}, "axis": null}, "text": {"value": "Context"}}},
      {"transform": [{"filter": "datum.label == 'Increased'"}], "mark": {"type": "point", "filled": true, "color": "#000000", "size": 50, "opacity": 1},
       "encoding": {"x": {"datum": 78.9, "type": "quantitative"}, "y": {"datum": 0.52, "type": "quantitative"},
                    "shape": {"field": "label", "type": "nominal", "scale": {"domain": ["Increased","Decreased"], "range": ["M0,-1L0.8,-0.05L0.3,-0.05L0.3,1L-0.3,1L-0.3,-0.05L-0.8,-0.05Z", "M0,1L0.8,0.05L0.3,0.05L0.3,-1L-0.3,-1L-0.3,0.05L-0.8,0.05Z"]}, "legend": null}}},
      {"transform": [{"filter": "datum.label == 'Increased'"}], "mark": {"type": "text", "fontSize": 8.5, "color": "#1a1a1a", "baseline": "middle", "align": "left"},
       "encoding": {"x": {"datum": 80.0, "type": "quantitative"}, "y": {"datum": 0.52, "type": "quantitative"}, "text": {"field": "label"}}},
      {"transform": [{"filter": "datum.label == 'Decreased'"}], "mark": {"type": "point", "filled": true, "color": "#000000", "size": 50, "opacity": 1},
       "encoding": {"x": {"datum": 90.8, "type": "quantitative"}, "y": {"datum": 0.52, "type": "quantitative"},
                    "shape": {"field": "label", "type": "nominal", "scale": {"domain": ["Increased","Decreased"], "range": ["M0,-1L0.8,-0.05L0.3,-0.05L0.3,1L-0.3,1L-0.3,-0.05L-0.8,-0.05Z", "M0,1L0.8,0.05L0.3,0.05L0.3,-1L-0.3,-1L-0.3,0.05L-0.8,0.05Z"]}, "legend": null}}},
      {"transform": [{"filter": "datum.label == 'Decreased'"}], "mark": {"type": "text", "fontSize": 8.5, "color": "#1a1a1a", "baseline": "middle", "align": "left"},
       "encoding": {"x": {"datum": 91.9, "type": "quantitative"}, "y": {"datum": 0.52, "type": "quantitative"}, "text": {"field": "label"}}}
    ]
  },
  {
    "width": 400, "height": 13, "view": {"stroke": null},
    "layer": [
      {"data": {"name": "groups"}, "mark": {"type": "rect", "fill": "#d9d9d9", "stroke": "#8c8c8c", "strokeWidth": 0.8},
       "encoding": {"x": {"field": "group", "type": "nominal", "sort": ["Genome","All strong","Alu","L1","Others"], "scale": {"paddingInner": 0.0617, "paddingOuter": 0}, "axis": null}}},
      {"data": {"name": "groups"}, "mark": {"type": "text", "fontSize": 8.5, "color": "#1a1a1a", "baseline": "middle"},
       "encoding": {"x": {"field": "group", "type": "nominal", "sort": ["Genome","All strong","Alu","L1","Others"], "scale": {"paddingInner": 0.0617, "paddingOuter": 0}, "axis": null}, "text": {"field": "group"}}},
      {"data": {"values": [{"b": "b", "title": "de novo SNVs associated with strong nucleosomes", "aet": "Aetiology info. from COSMIC"}]},
       "layer": [
         {"mark": {"type": "text", "fontSize": 13, "fontWeight": "bold", "align": "left", "baseline": "top", "color": "#000"},
          "encoding": {"x": {"datum": -9.9, "type": "quantitative", "scale": {"domain": [0, 100]}, "axis": null}, "y": {"datum": 2.96, "type": "quantitative", "scale": {"domain": [0, 1]}, "axis": null}, "text": {"field": "b"}}},
         {"mark": {"type": "text", "fontSize": 8.5, "color": "#1a1a1a", "baseline": "middle"},
          "encoding": {"x": {"datum": 61.8, "type": "quantitative"}, "y": {"datum": 2.0, "type": "quantitative"}, "text": {"field": "title"}}},
         {"mark": {"type": "rule", "color": "#333333", "strokeWidth": 2},
          "encoding": {"x": {"datum": 21.1, "type": "quantitative"}, "x2": {"datum": 101.8}, "y": {"datum": 1.385, "type": "quantitative"}}},
         {"mark": {"type": "text", "fontSize": 8.5, "color": "#1a1a1a", "baseline": "middle"},
          "encoding": {"x": {"datum": 130.5, "type": "quantitative"}, "y": {"datum": 0.55, "type": "quantitative"}, "text": {"field": "aet"}}}
       ]}
    ],
    "resolve": {"scale": {"x": "independent"}}
  },
  {
    "spacing": 0,
    "resolve": {"scale": {"fill": "independent", "color": "independent"}},
    "hconcat": [
      {
        "data": {"name": "contrib"},
        "facet": {"column": {"field": "group", "type": "nominal", "sort": ["Genome","All strong","Alu","L1","Others"], "header": null}},
        "spacing": {"column": 5},
        "bounds": "flush",
        "spec": {
          "width": 76, "height": 168,
          "layer": [
            {"mark": {"type": "bar"},
             "encoding": {
               "y": {"field": "sig", "type": "nominal", "sort": ["1","2","3","5","6","7","11","12","13","16","20","26","30"], "scale": {"paddingInner": 0.45, "paddingOuter": 0.325},
                     "axis": {"title": "Signature", "titlePadding": 4}},
               "x": {"field": "value", "type": "quantitative", "scale": {"domain": [-1.5, 42], "nice": false},
                     "axis": {"title": null, "values": [0, 10, 20, 30, 40], "tickCount": 5, "grid": true, "gridColor": "#ebebeb", "labelOverlap": false, "labelFlush": false, "labelSeparation": 0, "labelBound": false}},
               "color": {"field": "sig", "type": "nominal", "scale": {"domain": ["1","2","3","5","6","7","11","12","13","16","20","26","30"], "range": ["#f8877a","#d3d3d3","#a6cee3","#f9b4b3","#1f78b4","#d3d3d3","#93c58c","#9fa8e2","#999999","#999999","#1f78b4","#1f78b4","#999999"]}, "legend": null}
             }},
            {"transform": [{"filter": "datum.star === true"}],
             "mark": {"type": "text", "text": "*", "align": "left", "dx": 2, "dy": 2, "fontSize": 11, "fontWeight": "bold", "baseline": "middle", "color": "#111111"},
             "encoding": {
               "y": {"field": "sig", "type": "nominal", "sort": ["1","2","3","5","6","7","11","12","13","16","20","26","30"]},
               "x": {"field": "value", "type": "quantitative"}
             }}
          ]
        }
      },
      {
        "width": 215, "height": 168, "view": {"stroke": null},
        "layer": [
          {"data": {"name": "sigs"},
           "transform": [{"calculate": "indexof(['1','2','3','5','6','7','11','12','13','16','20','26','30'], datum.sig) + 1", "as": "idx"}],
           "layer": [
             {"mark": {"type": "rule", "color": "#4d4d4d"},
              "encoding": {"x": {"datum": 0, "type": "quantitative", "scale": {"domain": [0, 100]}, "axis": null}, "x2": {"datum": 1.3},
                           "y": {"field": "idx", "type": "quantitative", "scale": {"domain": [0.4, 13.6], "reverse": true}, "axis": null}}},
             {"mark": {"type": "text", "align": "left", "baseline": "middle", "fontSize": 8, "color": "#4d4d4d"},
              "encoding": {"x": {"datum": 2.0, "type": "quantitative"}, "y": {"field": "idx", "type": "quantitative"}, "text": {"field": "sig"}}}
           ]},
          {"data": {"name": "links"},
           "transform": [
             {"calculate": "indexof(['1','2','3','5','6','7','11','12','13','16','20','26','30'], datum.sig) + 1", "as": "idx"},
             {"calculate": "1.32 + (datum.slot - 1) * 1.706", "as": "yb"},
             {"calculate": "length(datum.sig) == 1 ? 5.6 : 7.9", "as": "x0"}
           ],
           "mark": {"type": "rule", "strokeDash": [2, 2], "color": "#333333", "strokeWidth": 1},
           "encoding": {"x": {"field": "x0", "type": "quantitative"}, "x2": {"datum": 17.7}, "y": {"field": "idx", "type": "quantitative"}, "y2": {"field": "yb"}}},
          {"data": {"name": "aetiology"},
           "transform": [
             {"calculate": "1.32 + (datum.slot - 1) * 1.706", "as": "yb"},
             {"calculate": "datum.yb - 0.656", "as": "y0"},
             {"calculate": "datum.yb + 0.656", "as": "y1"}
           ],
           "layer": [
             {"mark": {"type": "rect"},
              "encoding": {"x": {"datum": 17.7, "type": "quantitative"}, "x2": {"datum": 97.7}, "y": {"field": "y0", "type": "quantitative"}, "y2": {"field": "y1"},
                           "fill": {"field": "slot", "type": "ordinal", "scale": {"domain": [1,2,3,4,5,6,7], "range": ["#f8877a","#a6cee3","#f9b4b3","#93c58c","#9fa8e2","#1f78b4","#999999"]}, "legend": null}}},
             {"mark": {"type": "text", "fontSize": 8.5, "baseline": "middle"},
              "encoding": {"x": {"datum": 57.7, "type": "quantitative"}, "y": {"field": "yb", "type": "quantitative"}, "text": {"field": "label"},
                           "color": {"condition": {"test": "datum.slot == 6", "value": "#d4e8f7"}, "value": "#262626"}}}
           ]}
        ]
      }
    ]
  },
  {
    "width": 615, "height": 14, "view": {"stroke": null},
    "data": {"values": [{"a": "Contribution(%)", "b": "* >1% increase relative to ‘genome’contribution"}]},
    "layer": [
      {"mark": {"type": "text", "fontSize": 8.5, "color": "#1a1a1a", "baseline": "middle"},
       "encoding": {"x": {"datum": 33, "type": "quantitative", "scale": {"domain": [0, 100]}, "axis": null}, "y": {"datum": 0.4, "type": "quantitative", "scale": {"domain": [0, 1]}, "axis": null}, "text": {"field": "a"}}},
      {"mark": {"type": "text", "fontSize": 8, "color": "#1a1a1a", "baseline": "middle", "align": "left"},
       "encoding": {"x": {"datum": 61.5, "type": "quantitative"}, "y": {"datum": 0.3, "type": "quantitative"}, "text": {"field": "b"}}}
    ]
  }
]
}
